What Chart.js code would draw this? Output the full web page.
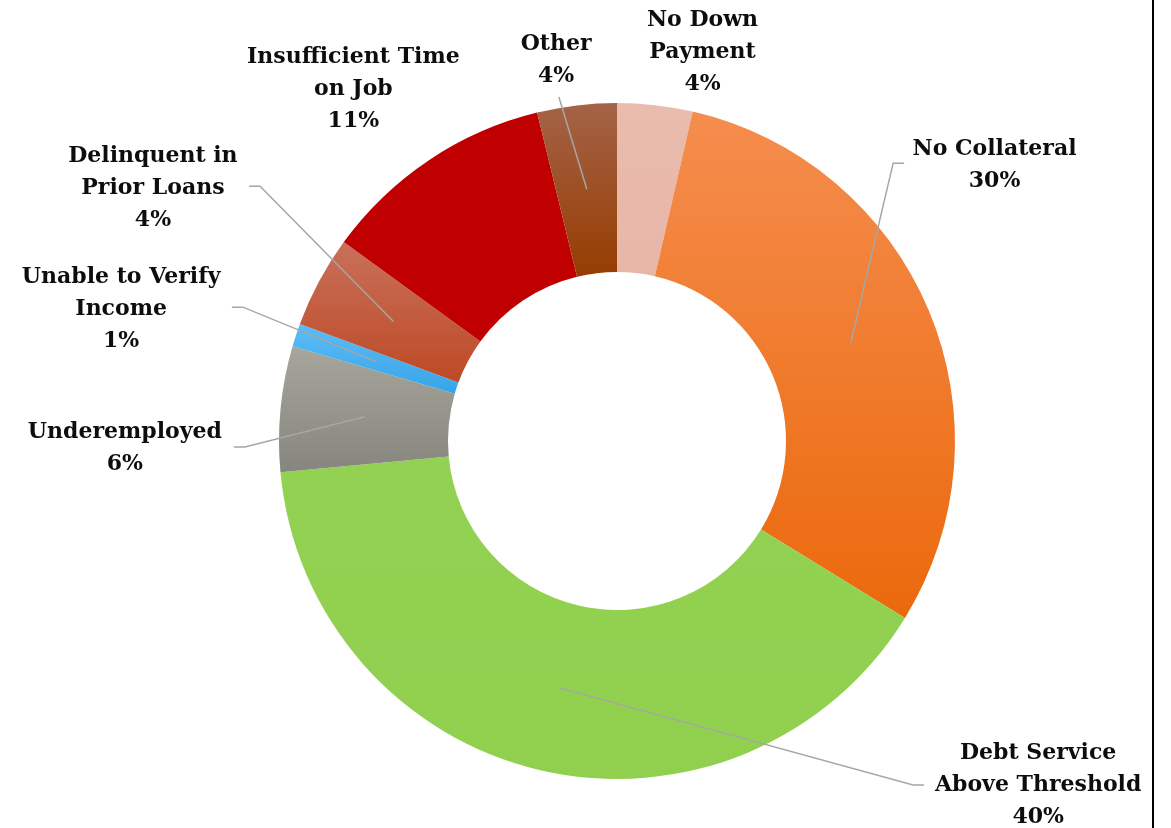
<!DOCTYPE html>
<html>
<head>
<meta charset="utf-8">
<script src="https://cdn.jsdelivr.net/npm/chart.js@4"></script>
<style>
  html, body { margin: 0; padding: 0; background: #fff; }
  #wrap { position: relative; width: 1171px; height: 828px; overflow: hidden; }
  #frame { position: absolute; left: 1152px; top: 0; width: 2px; height: 828px; background: #000; }
</style>
</head>
<body>
<div id="wrap">
  <canvas id="c" width="1171" height="828"></canvas>
  <div id="frame"></div>
</div>
<script>
// ---- data ----
const categories = [
  ['No Down', 'Payment'],
  ['No Collateral'],
  ['Debt Service', 'Above Threshold'],
  ['Underemployed'],
  ['Unable to Verify', 'Income'],
  ['Delinquent in', 'Prior Loans'],
  ['Insufficient Time', 'on Job'],
  ['Other']
];
const shares = [3.6, 30.2, 39.8, 6.0, 1.1, 4.4, 11.2, 3.8];

// ---- styles ----
const colorTop    = ['#E9BCAE', '#F58D4E', '#93D152', '#A7A69C', '#5CBDF6', '#C9705A', '#C00000', '#A46348'];
const colorBottom = ['#E7B6A7', '#EB690C', '#91CF4F', '#86867E', '#38A4E8', '#BD4A26', '#C00000', '#963C00'];

// label layout: text centre and leader end, in units of the outer radius from the centre
const labelLayout = [
  { tx: 0.253, ty: -1.151, leader: null },
  { tx: 1.117, ty: -0.817, leader: { x: 0.817, y: -0.822, dir: 1 } },
  { tx: 1.246, ty: 1.018,  leader: { x: 0.876, y: 1.018, dir: 1 } },
  { tx: -1.456, ty: 0.022, leader: { x: -1.101, y: 0.018, dir: -1 } },
  { tx: -1.467, ty: -0.391, leader: { x: -1.107, y: -0.396, dir: -1 } },
  { tx: -1.373, ty: -0.749, leader: { x: -1.056, y: -0.754, dir: -1 } },
  { tx: -0.780, ty: -1.041, leader: null },
  { tx: -0.180, ty: -1.126, leader: { x: -0.172, y: -1.018, dir: 0 } }
];

const FONT = 'bold 22px "DejaVu Serif"';
const LINE_H = 32;

const gradientPlugin = {
  id: 'sliceGradients',
  beforeDatasetsDraw(chart) {
    const ctx = chart.ctx;
    const meta = chart.getDatasetMeta(0);
    meta.data.forEach((arc, i) => {
      const { x, y, startAngle, endAngle, innerRadius, outerRadius } = arc.getProps(
        ['x', 'y', 'startAngle', 'endAngle', 'innerRadius', 'outerRadius'], true);
      let ymin = Infinity, ymax = -Infinity;
      const steps = 60;
      for (let s = 0; s <= steps; s++) {
        const a = startAngle + (endAngle - startAngle) * s / steps;
        [innerRadius, outerRadius].forEach(r => {
          const py = y + r * Math.sin(a);
          ymin = Math.min(ymin, py); ymax = Math.max(ymax, py);
        });
      }
      const g = ctx.createLinearGradient(0, ymin, 0, ymax);
      g.addColorStop(0, colorTop[i]);
      g.addColorStop(1, colorBottom[i]);
      arc.options.backgroundColor = g;
    });
  }
};

const labelPlugin = {
  id: 'outsideLabels',
  afterDatasetsDraw(chart) {
    const ctx = chart.ctx;
    const meta = chart.getDatasetMeta(0);
    const total = shares.reduce((a, b) => a + b, 0);
    meta.data.forEach((arc, i) => {
      const { x: cx, y: cy, outerRadius: R } = arc.getProps(['x', 'y', 'outerRadius'], true);
      const L = labelLayout[i];
      if (L.leader) {
        const p = arc.getCenterPoint();
        const ex = cx + L.leader.x * R, ey = cy + L.leader.y * R;
        ctx.save();
        ctx.strokeStyle = '#A6A6A6';
        ctx.lineWidth = 1.5;
        ctx.beginPath();
        ctx.moveTo(p.x, p.y);
        ctx.lineTo(ex, ey);
        if (L.leader.dir !== 0) ctx.lineTo(ex + L.leader.dir * 11, ey);
        ctx.stroke();
        ctx.restore();
      }
      const lines = categories[i].concat([Math.round(shares[i] / total * 100) + '%']);
      const tx = cx + L.tx * R;
      const ty = cy + L.ty * R;
      ctx.save();
      ctx.font = FONT;
      ctx.fillStyle = '#0d0d0d';
      ctx.textAlign = 'center';
      ctx.textBaseline = 'middle';
      const y0 = ty - (lines.length - 1) * LINE_H / 2;
      lines.forEach((t, k) => ctx.fillText(t, tx, y0 + k * LINE_H));
      ctx.restore();
    });
  }
};

new Chart(document.getElementById('c'), {
  type: 'doughnut',
  data: {
    labels: categories,
    datasets: [{
      data: shares,
      backgroundColor: colorTop,
      borderWidth: 0,
      hoverOffset: 0,
      offset: 0
    }]
  },
  options: {
    responsive: false,
    animation: false,
    cutout: '50%',
    layout: { padding: { left: 279, right: 216, top: 103, bottom: 49 } },
    plugins: { legend: { display: false }, tooltip: { enabled: false } },
    events: []
  },
  plugins: [gradientPlugin, labelPlugin]
});
</script>
</body>
</html>
